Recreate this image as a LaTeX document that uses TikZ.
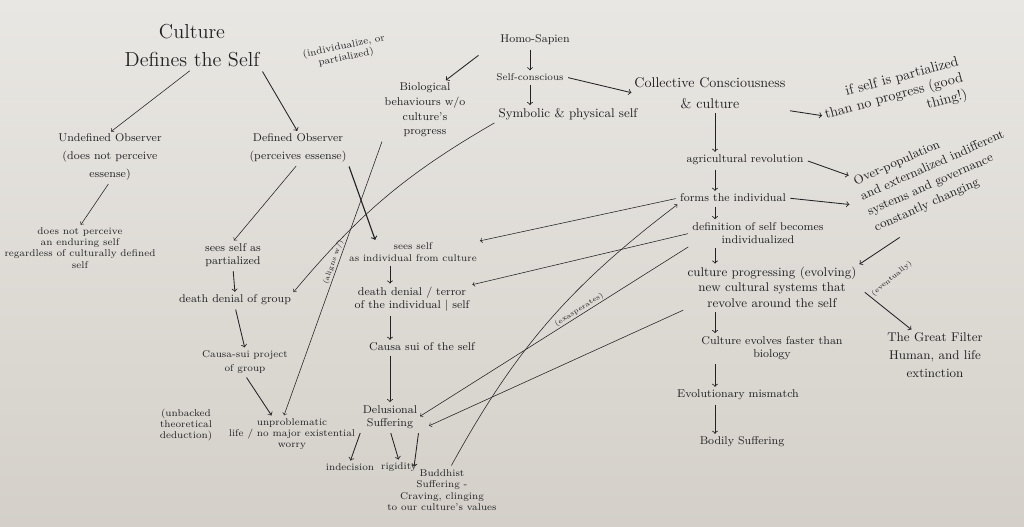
\documentclass[tikz,border=0pt]{standalone}
\usepackage{amsmath}
\usepackage{tikz}
\usepackage{xcolor}
\definecolor{ink}{RGB}{34,34,38}
\definecolor{boardtop}{RGB}{233,231,227}
\definecolor{boardbot}{RGB}{212,208,201}

\begin{document}
\begin{tikzpicture}[x=0.025cm, y=-0.025cm,
    every node/.style={text=ink, align=center, inner sep=1pt},
    note/.style={font=\scriptsize},
    mid/.style={font=\footnotesize},
    big/.style={font=\small},
    link/.style={->, draw=ink, semithick, shorten >=1pt, shorten <=2pt},
    faint/.style={link, thin}]
  \shade[top color=boardtop, bottom color=boardbot] (0,0) rectangle (1024,526);
  \useasboundingbox (0,0) rectangle (1024,526);
  \coordinate (col) at (715,0);

  % left branch
  \node[font=\Large] (culture) at (192,46) {Culture\\[2pt]Defines the Self};
  \node[note, rotate=12] (indiv) at (345,52) {(individualize, or\\partialized)};
  \node[mid] (undef) at (110,157) {Undefined Observer\\[3pt](does not perceive\\[3pt]essense)};
  \node[mid] (def) at (298,148) {Defined Observer\\[3pt](perceives essense)};
  \node[note] (noself) at (80,248) {does not perceive\\an enduring self\\regardless of culturally defined\\self};
  \node[mid] (partial) at (233,255) {sees self as\\partialized};
  \node[note] (indivcult) at (413,252) {sees self\\as individual from culture};
  \node[mid] (ddgroup) at (235,300) {death denial of group};
  \node[mid] (ddself) at (412,299) {death denial / terror\\of the individual $|$ self};
  \node[note] (causagroup) at (245,362) {Causa-sui project\\[2pt]of group};
  \node[mid] (causaself) at (422,347) {Causa sui of the self};
  \node[note] (unbacked) at (186,425) {(unbacked\\theoretical\\deduction)};
  \node[note] (unprob) at (292,434) {unproblematic\\life / no major existential\\worry};
  \node[mid] (delus) at (390,417) {Delusional\\Suffering};
  \node[note] (indec) at (350,467) {indecision};
  \node[note] (rigid) at (399,467) {rigidity};
  \node[note] (buddh) at (442,490) {Buddhist\\Suffering -\\Craving, clinging\\to our culture's values};

  % top middle
  \node[mid] (homo) at (535,40) {Homo-Sapien};
  \node[note] (selfcon) at (530,77) {Self-conscious};
  \node[big] (symb) at (568,114) {Symbolic \& physical self};
  \node[mid] (bio) at (425,110) {Biological\\[1pt]behaviours w/o\\[1pt]culture's\\[1pt]progress};
  \node[font=\normalsize] (collect) at (710,93) {Collective Consciousness\\[3pt]\& culture};
  \node[font=\normalsize, rotate=15, align=right] (ifself) at (894,97) {if self is partialized\\than no progress (good\\thing!)};

  % right column
  \node[mid] (agri) at (745,160) {agricultural revolution};
  \node[mid] (forms) at (733,198) {forms the individual};
  \node[mid] (definit) at (758,233) {definition of self becomes\\individualized};
  \node[big, rotate=24, anchor=north west, align=left] (overpop) at (850,176) {Over-population\\[1pt]and externalized indifferent\\[1pt]systems and governance\\[1pt]constantly changing};
  \node[big] (progress) at (772,287) {culture progressing (evolving)\\new cultural systems that\\revolve around the self};
  \node[mid] (evolves) at (772,348) {Culture evolves faster than\\biology};
  \node[mid] (mismatch) at (738,395) {Evolutionary mismatch};
  \node[mid] (bodily) at (742,442) {Bodily Suffering};
  \node[big] (filter) at (935,355) {The Great Filter\\[2pt]Human, and life\\[2pt]extinction};

  % arrows
  \draw[faint] (culture.south) -- (undef.north);
  \draw[link] (culture.south east) -- (def.north);
  \draw[faint] (undef.south) -- (noself.north);
  \draw[faint] (def.south) -- (partial.north);
  \draw[link, thick] (def.south east) -- ([xshift=20pt]indivcult.north west);
  \draw[link] (partial.south) -- (ddgroup.north);
  \draw[link] (indivcult.south -| delus) -- (ddself.north -| delus);
  \draw[link] (ddgroup.south) -- (causagroup.north);
  \draw[link] (ddself.south -| delus) -- (causaself.north -| delus);
  \draw[link] (causagroup.south) -- ([xshift=-14pt]unprob.north);
  \draw[link] (causaself.south -| delus) -- (delus.north);
  \draw[link] (delus.south west) -- (indec.north);
  \draw[link] (delus.south) -- (rigid.north);
  \draw[link] (delus.south east) -- ([xshift=-20pt]buddh.north);

  \draw[link] (homo.south -| selfcon) -- (selfcon.north);
  \draw[link] (selfcon.south) -- (selfcon.south |- symb.north);
  \draw[link, shorten <=18pt] (homo.west) -- ([xshift=14pt]bio.north);
  \draw[link] (selfcon.east) -- (collect.west);
  \draw[link] (collect.south east) -- (ifself.west);
  \draw[faint] (bio.south west) -- ([xshift=-6pt]unprob.north) node[pos=0.45, sloped, above, font=\tiny] {(aligns w/)};
  \draw[faint] (symb.south west) to[bend right=10] (ddgroup.north east);

  \draw[link] (collect.south -| col) -- (agri.north -| col);
  \draw[link] (agri.south -| col) -- (forms.north -| col);
  \draw[link] (forms.south -| col) -- (definit.north -| col);
  \draw[link] (definit.south -| col) -- (progress.north -| col);
  \draw[link] (progress.south -| col) -- (evolves.north -| col);
  \draw[link] (evolves.south -| col) -- (mismatch.north -| col);
  \draw[link] (mismatch.south -| col) -- (bodily.north -| col);
  \draw[link] (agri.east) -- (overpop.north west);
  \draw[link, shorten >=10pt] (forms.east) -- (overpop.west);
  \draw[link] ([xshift=18pt]overpop.south west) -- (progress.north east);
  \draw[link, shorten <=6pt] (progress.east) -- ([xshift=-16pt]filter.north) node[pos=0.3, above right, rotate=40, font=\tiny] {(eventually)};

  \draw[faint] (forms.west) -- (indivcult.north east);
  \draw[faint] (definit.west) -- (ddself.north east);
  \draw[faint] (buddh.70) to[bend left=12] (forms.south west);
  \draw[faint] (definit.south west) -- (delus.east) node[pos=0.4, sloped, above, font=\tiny] {(exasperates)};
  \draw[faint, shorten >=8pt] (progress.south west) -- (delus.south east);
\end{tikzpicture}
\end{document}
